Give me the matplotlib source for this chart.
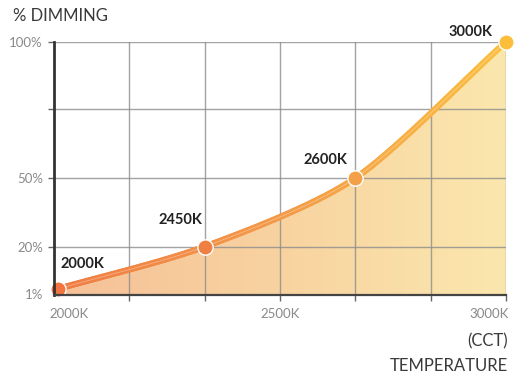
import numpy as np
import matplotlib
matplotlib.use("Agg")
import matplotlib.pyplot as plt
from matplotlib.collections import LineCollection
from matplotlib.colors import LinearSegmentedColormap

plt.rcParams['font.family'] = ['Lato', 'DejaVu Sans']

# Puntos de la curva: temperatura de color (K) frente a % de atenuación
cct = [2000, 2450, 2600, 3000]
dimming = [1, 20, 50, 100]
point_labels = ["2000K", "2450K", "2600K", "3000K"]
point_colors = ["#f3743f", "#ef7f43", "#f4a049", "#fbbd3a"]

x_tick_labels = ["2000K", "2500K", "3000K"]
y_ticks = [1, 20, 50, 75, 100]
y_tick_labels = ["1%", "20%", "50%", "", "100%"]

# Escalas esquemáticas (no lineales) de ambos ejes, en unidades de rejilla
x_anchor = [1990, 2000, 2450, 2500, 2600, 3000]
x_units = [0.0, 0.053, 2.0, 3.0, 4.0, 6.0]
y_anchor = [0, 1, 20, 50, 75, 100]
y_units = [0.0, 0.09, 0.708, 1.713, 2.723, 3.71]


def fx(v):
    return np.interp(v, x_anchor, x_units)


def fx_inv(u):
    return np.interp(u, x_units, x_anchor)


def fy(v):
    return np.interp(v, y_anchor, y_units)


def fy_inv(u):
    return np.interp(u, y_units, y_anchor)


fig = plt.figure(figsize=(5.17, 3.73), dpi=100)
ax = fig.add_axes([54 / 517, 1 - 295 / 373, 452 / 517, (295 - 41.7) / 373])
ax.set_xscale('function', functions=(fx, fx_inv))
ax.set_yscale('function', functions=(fy, fy_inv))
ax.set_xlim(1990, 3000)
ax.set_ylim(0, 100)

# Curva suave (spline cardinal) calculada en unidades de rejilla
pu = fx(np.array(cct, dtype=float))
pv = fy(np.array(dimming, dtype=float))
P = np.column_stack([pu, pv])
P_ext = np.vstack([2 * P[0] - P[1], P, 2 * P[-1] - P[-2]])
tension = 0.8
t = np.linspace(0, 1, 60)[:, None]
curve = []
for i in range(1, len(P_ext) - 2):
    p1, p2 = P_ext[i], P_ext[i + 1]
    m1 = tension * 0.5 * (P_ext[i + 1] - P_ext[i - 1])
    m2 = tension * 0.5 * (P_ext[i + 2] - P_ext[i])
    h00 = 2 * t ** 3 - 3 * t ** 2 + 1
    h10 = t ** 3 - 2 * t ** 2 + t
    h01 = -2 * t ** 3 + 3 * t ** 2
    h11 = t ** 3 - t ** 2
    seg = h00 * p1 + h10 * m1 + h01 * p2 + h11 * m2
    curve.append(seg if i == len(P_ext) - 3 else seg[:-1])
curve = np.vstack(curve)
cx = fx_inv(curve[:, 0])
cy = fy_inv(curve[:, 1])

# Relleno con degradado horizontal bajo la curva
fill_cmap = LinearSegmentedColormap.from_list("fill", ["#f6c097", "#f8d3a0", "#fbe7ad"])
poly = ax.fill_between(cx, 0, cy, color="none", lw=0)
grad = ax.imshow(np.linspace(0, 1, 256)[None, :], cmap=fill_cmap, aspect="auto",
                 extent=[0, 1, 0, 1], transform=ax.transAxes, zorder=1)
grad.set_clip_path(poly.get_paths()[0], ax.transData)

# Rejilla
for u in range(1, 7):
    ax.axvline(fx_inv(u), color="#8c8c8c", lw=1, alpha=0.8, zorder=2)
for v in [20, 50, 75, 100]:
    ax.axhline(v, color="#8c8c8c", lw=1, alpha=0.8, zorder=2)

# Línea con degradado de color
line_cmap = LinearSegmentedColormap.from_list("line", ["#f07c44", "#f39a48", "#fbbf40"])
pts = np.column_stack([cx, cy]).reshape(-1, 1, 2)
segs = np.concatenate([pts[:-1], pts[1:]], axis=1)
lc = LineCollection(segs, colors=line_cmap(np.linspace(0, 1, len(segs))),
                    linewidths=4.4, capstyle="round", zorder=3)
ax.add_collection(lc)
ax.plot(cx, cy, color="white", lw=0.6, alpha=0.35, zorder=3.5)

for x, y, c in zip(cct, dimming, point_colors):
    ax.plot(x, y, "o", ms=11, color=c, mec="white", mew=1.0, zorder=4, clip_on=False)

offsets = [(2, 18, "left"), (-2, 19, "right"), (-6, 13, "right"), (-10, 7, "right")]
for x, y, lab, (dx, dy, ha) in zip(cct, dimming, point_labels, offsets):
    ax.annotate(lab, (x, y), xytext=(dx, dy), textcoords="offset points",
                ha=ha, va="center", fontsize=10.5, fontweight="bold", color="#222222")

# Ejes
for side in ["top", "right"]:
    ax.spines[side].set_visible(False)
ax.spines["left"].set_color("#333333")
ax.spines["left"].set_linewidth(2)
ax.spines["bottom"].set_color("#444444")
ax.spines["bottom"].set_linewidth(1.6)
ax.spines["left"].set_zorder(5)
ax.spines["bottom"].set_zorder(5)

ax.set_yticks(y_ticks)
ax.set_yticklabels(y_tick_labels)
ax.yaxis.get_major_ticks()[0].tick1line.set_visible(False)
ax.tick_params(axis="y", length=4, width=1, color="#666666", labelsize=9.5,
               labelcolor="#8a8a8a", pad=4)
ax.yaxis.get_major_ticks()[0].label1.set_va("top")

ax.set_xticks([fx_inv(u) for u in range(1, 7)])
ax.set_xticklabels([])
ax.tick_params(axis="x", length=4, width=1, color="#666666")
for val, lab, ha in zip([1990, 2500, 3000], x_tick_labels, ["left", "center", "right"]):
    dx = {"left": -3, "center": 0, "right": 2}[ha]
    ax.annotate(lab, (val, 0), xytext=(dx, -14), textcoords="offset points",
                ha=ha, va="center", fontsize=9.5, color="#8a8a8a",
                annotation_clip=False)

fig.text(13 / 517, 1 - 16 / 373, "% DIMMING", fontsize=12, color="#3a3a3a",
         ha="left", va="center")
fig.text(508 / 517, 1 - 341 / 373, "(CCT)", fontsize=12, color="#3a3a3a",
         ha="right", va="center")
fig.text(508 / 517, 1 - 366 / 373, "TEMPERATURE", fontsize=12, color="#3a3a3a",
         ha="right", va="center")

fig.savefig("out.png", dpi=100)
